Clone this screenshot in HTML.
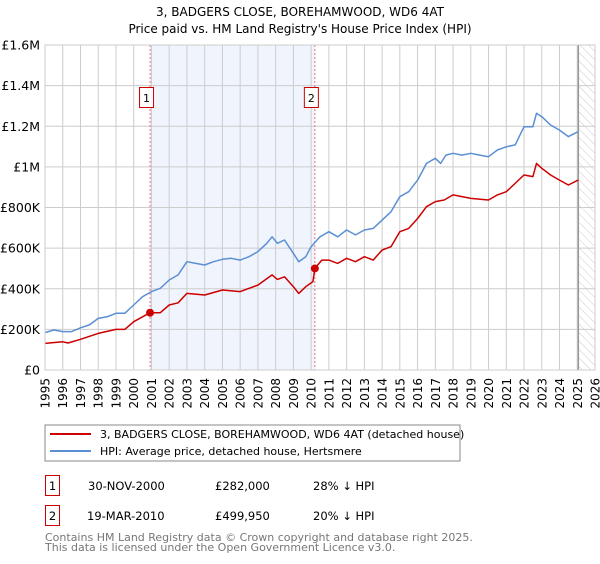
<!DOCTYPE html>
<html><head><meta charset="utf-8"><style>
body{margin:0;background:#fff;font-family:"DejaVu Sans","Liberation Sans",sans-serif;}
svg text{font-family:"DejaVu Sans","Liberation Sans",sans-serif;}
</style></head><body>
<svg id="c" width="600" height="560" xmlns="http://www.w3.org/2000/svg">
<defs><pattern id="hatch" width="6" height="6" patternUnits="userSpaceOnUse" patternTransform="rotate(-45)"><line x1="0" y1="0" x2="0" y2="6" stroke="#ccc" stroke-width="1"/></pattern></defs>
<text x="300" y="16" text-anchor="middle" font-size="12">3, BADGERS CLOSE, BOREHAMWOOD, WD6 4AT</text>
<text x="300" y="33" text-anchor="middle" font-size="12">Price paid vs. HM Land Registry's House Price Index (HPI)</text>
<g id="plot"></g>
<rect x="45" y="425" width="415" height="36" fill="#fff" stroke="#888"/>
<line x1="50" y1="434" x2="91" y2="434" stroke="#cc0000" stroke-width="2"/>
<text x="100" y="438" font-size="11">3, BADGERS CLOSE, BOREHAMWOOD, WD6 4AT (detached house)</text>
<line x1="50" y1="451" x2="91" y2="451" stroke="#5b8fd4" stroke-width="2"/>
<text x="100" y="455" font-size="11">HPI: Average price, detached house, Hertsmere</text>
<g font-size="11.5">
<rect x="45.5" y="475.5" width="14" height="20" fill="#fff" stroke="#cc0000"/>
<text x="52.5" y="490" text-anchor="middle">1</text>
<text x="88" y="490">30-NOV-2000</text>
<text x="215" y="490">£282,000</text>
<text x="313" y="490">28% ↓ HPI</text>
<rect x="45.5" y="505.5" width="14" height="20" fill="#fff" stroke="#cc0000"/>
<text x="52.5" y="520" text-anchor="middle">2</text>
<text x="87" y="520">19-MAR-2010</text>
<text x="215" y="520">£499,950</text>
<text x="313" y="520">20% ↓ HPI</text>
</g>
<text x="45" y="541" font-size="11" fill="#777">Contains HM Land Registry data © Crown copyright and database right 2025.</text>
<text x="45" y="551" font-size="11" fill="#777">This data is licensed under the Open Government Licence v3.0.</text>
</svg>
<script>
const yTicks=[0,200000,400000,600000,800000,1000000,1200000,1400000,1600000];
const yTickLabels=["£0","£200K","£400K","£600K","£800K","£1M","£1.2M","£1.4M","£1.6M"];
const xYears=[1995,1996,1997,1998,1999,2000,2001,2002,2003,2004,2005,2006,2007,2008,2009,2010,2011,2012,2013,2014,2015,2016,2017,2018,2019,2020,2021,2022,2023,2024,2025,2026];
const hpiT=[1995,1995.5,1996,1996.5,1997,1997.5,1998,1998.5,1999,1999.5,2000,2000.5,2001,2001.5,2002,2002.5,2003,2003.5,2004,2004.5,2005,2005.5,2006,2006.5,2007,2007.5,2007.8,2008.1,2008.5,2009,2009.3,2009.7,2010,2010.5,2011,2011.5,2012,2012.5,2013,2013.5,2014,2014.5,2015,2015.5,2016,2016.5,2017,2017.3,2017.6,2018,2018.5,2019,2019.5,2020,2020.5,2021,2021.5,2022,2022.5,2022.7,2023,2023.5,2024,2024.5,2025.05];
const hpiV=[184,197,189,189,208,222,254,262,279,279,320,361,386,402,443,468,533,525,517,533,545,550,541,558,583,624,656,624,640,574,533,558,607,656,681,656,689,665,689,697,738,779,853,878,935,1017,1042,1017,1058,1067,1058,1067,1058,1050,1083,1099,1108,1198,1198,1264,1247,1206,1181,1149,1173];
const ppT=[1995,1996,1996.3,1997,1998,1999,1999.5,2000,2000.5,2000.92,2001.5,2002,2002.5,2003,2004,2005,2006,2007,2007.8,2008.1,2008.5,2009,2009.3,2009.7,2010.1,2010.21,2010.6,2011,2011.5,2012,2012.5,2013,2013.5,2014,2014.5,2015,2015.5,2016,2016.5,2017,2017.5,2018,2019,2020,2020.5,2021,2022,2022.5,2022.7,2023,2023.5,2024,2024.5,2025.05];
const ppV=[131,139,133,151,180,200,200,238,262,282,282,320,331,377,369,394,386,418,468,446,459,410,377,410,435,500,541,541,525,550,533,558,541,591,607,681,697,746,804,829,837,862,845,837,862,878,960,952,1017,993,960,935,911,935];
const saleT=[2000.92,2010.21];
const saleV=[282,499.95];
const saleLabels=["1","2"];
const NS="http://www.w3.org/2000/svg";
const L=45,R=595,T=45,B=370;
const xs=t=>L+(t-1995)/(2026-1995)*(R-L);
const ys=v=>B-v/1600000*(B-T);
const g=document.getElementById('plot');
function mk(tag,attrs,parent){const e=document.createElementNS(NS,tag);for(const k in attrs)e.setAttribute(k,attrs[k]);(parent||g).appendChild(e);return e;}
let e;
e=mk('rect',{x:xs(saleT[0]),y:T,width:xs(saleT[1])-xs(saleT[0]),height:B-T,fill:'#f0f4fd'});


e=mk('rect',{x:xs(2025.06),y:T,width:R-xs(2025.06),height:B-T,fill:'url(#hatch)'});


xYears.forEach(y=>{e=mk('line',{x1:xs(y),x2:xs(y),y1:T,y2:B,stroke:'#ccc'});


const t=mk('text',{x:0,y:0,'font-size':12,'text-anchor':'end',transform:`translate(${xs(y)+4.5},${B+8}) rotate(-90)`});t.textContent=y;

});
yTicks.forEach((v,i)=>{e=mk('line',{x1:L,x2:R,y1:ys(v),y2:ys(v),stroke:'#ccc'});


const t=mk('text',{x:L-5,y:ys(v)+4.5,'font-size':12.5,'text-anchor':'end'});t.textContent=yTickLabels[i];

});
e=mk('line',{x1:xs(2025.06),x2:xs(2025.06),y1:T,y2:B,stroke:'#999','stroke-width':1.5});


saleT.forEach((s,i)=>{e=mk('line',{x1:xs(s),x2:xs(s),y1:T,y2:B,stroke:'#f07070','stroke-dasharray':'2,2'});


e=mk('rect',{x:xs(s)-10.5,y:87.5,width:14,height:20,fill:'#fff',stroke:'#cc0000'});


const t=mk('text',{x:xs(s)-3.5,y:102,'font-size':11,'text-anchor':'middle'});t.textContent=saleLabels[i];

});
function path(T2,V,col,name){const d=T2.map((t,i)=>(i?'L':'M')+xs(t).toFixed(1)+','+ys(V[i]*1000).toFixed(1)).join('');
e=mk('path',{d:d,fill:'none',stroke:col,'stroke-width':1.5,'stroke-linejoin':'round'});

}
path(hpiT,hpiV,'#5b8fd4','hpi-line');
path(ppT,ppV,'#cc0000','property-line');
saleT.forEach((s,i)=>{e=mk('circle',{cx:xs(s),cy:ys(saleV[i]*1000),r:4,fill:'#cc0000'});

});
e=mk('rect',{x:L,y:T,width:R-L,height:B-T,fill:'none',stroke:'#ccc'});


</script>
</body></html>
